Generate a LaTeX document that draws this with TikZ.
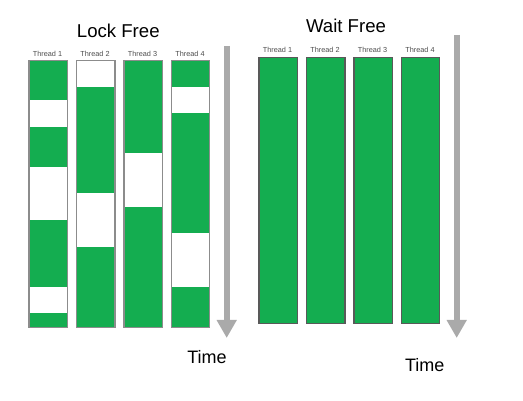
\documentclass[tikz,border=0pt]{standalone}
\usepackage{fontspec}
\setmainfont{Liberation Sans}
\usetikzlibrary{arrows.meta}
\definecolor{tgreen}{HTML}{14AD50}
\definecolor{tgray}{HTML}{AAAAAA}
\begin{document}
\begin{tikzpicture}[x=1pt,y=-1pt,
  col/.style={draw=#1,line width=1.2pt},
  seg/.style={fill=tgreen},
  thr/.style={font=\fontsize{7.3}{8}\selectfont,text=black!70,inner sep=0pt},
  ttl/.style={font=\fontsize{18.6}{20}\selectfont,inner sep=0pt},
  tim/.style={font=\fontsize{18}{19}\selectfont,inner sep=0pt},
  tarrow/.style={draw=tgray,line width=6pt,-{Triangle[width=19pt,length=18pt]}}]
\useasboundingbox (0,0) rectangle (523,401);
% ---------- Lock free ----------
\node[ttl] (lf) at (118.3,30.7) {Lock Free};
% column 1
\fill[white] (28.3,60) rectangle (66.7,326.7);
\fill[seg] (28.3,60) rectangle (66.7,100);
\fill[seg] (28.3,126.7) rectangle (66.7,166.7);
\fill[seg] (28.3,220) rectangle (66.7,286.7);
\fill[seg] (28.3,313.3) rectangle (66.7,326.7);
\node[col=gray!90,minimum width=38.4pt,minimum height=266.7pt,inner sep=0pt,anchor=north west] (l1) at (28.3,60) {};
% column 2
\fill[seg] (75.7,86.7) rectangle (114.3,193.3);
\fill[seg] (75.7,246.7) rectangle (114.3,326.7);
\node[col=gray!90,minimum width=38.6pt,minimum height=266.7pt,inner sep=0pt,anchor=north west] (l2) at (75.7,60) {};
% column 3
\fill[seg] (123.3,60) rectangle (161.7,153.3);
\fill[seg] (123.3,206.7) rectangle (161.7,326.7);
\node[col=gray!90,minimum width=38.4pt,minimum height=266.7pt,inner sep=0pt,anchor=north west] (l3) at (123.3,60) {};
% column 4
\fill[seg] (170.7,60) rectangle (209,86.7);
\fill[seg] (170.7,113.3) rectangle (209,233.3);
\fill[seg] (170.7,286.7) rectangle (209,326.7);
\node[col=gray!90,minimum width=38.3pt,minimum height=266.7pt,inner sep=0pt,anchor=north west] (l4) at (170.7,60) {};
\node[thr] (lt1) at (47.5,54) {Thread 1};
\node[thr] (lt2) at (95,54) {Thread 2};
\node[thr] (lt3) at (142.5,54) {Thread 3};
\node[thr] (lt4) at (190,54) {Thread 4};
\coordinate (la0) at (226.7,46);
\coordinate (la1) at (226.7,338);
\draw[tarrow] (la0) -- (la1);
\node[tim] (ltime) at (207,357) {Time};
% ---------- Wait free ----------
\node[ttl] (wf) at (346,26) {Wait Free};
\node[col=black!65,fill=tgreen,minimum width=38.4pt,minimum height=266.6pt,inner sep=0pt,anchor=north west] (w1) at (258.3,56.7) {};
\node[col=black!65,fill=tgreen,minimum width=38.6pt,minimum height=266.6pt,inner sep=0pt,anchor=north west] (w2) at (305.7,56.7) {};
\node[col=black!65,fill=tgreen,minimum width=38.4pt,minimum height=266.6pt,inner sep=0pt,anchor=north west] (w3) at (353.3,56.7) {};
\node[col=black!65,fill=tgreen,minimum width=38pt,minimum height=266.6pt,inner sep=0pt,anchor=north west] (w4) at (401,56.7) {};
\node[thr] (wt1) at (277.5,50) {Thread 1};
\node[thr] (wt2) at (325,50) {Thread 2};
\node[thr] (wt3) at (372.5,50) {Thread 3};
\node[thr] (wt4) at (420,50) {Thread 4};
\coordinate (wa0) at (456.7,35);
\coordinate (wa1) at (456.7,338);
\draw[tarrow] (wa0) -- (wa1);
\node[tim] (wtime) at (424.7,365) {Time};
\end{tikzpicture}
\end{document}
